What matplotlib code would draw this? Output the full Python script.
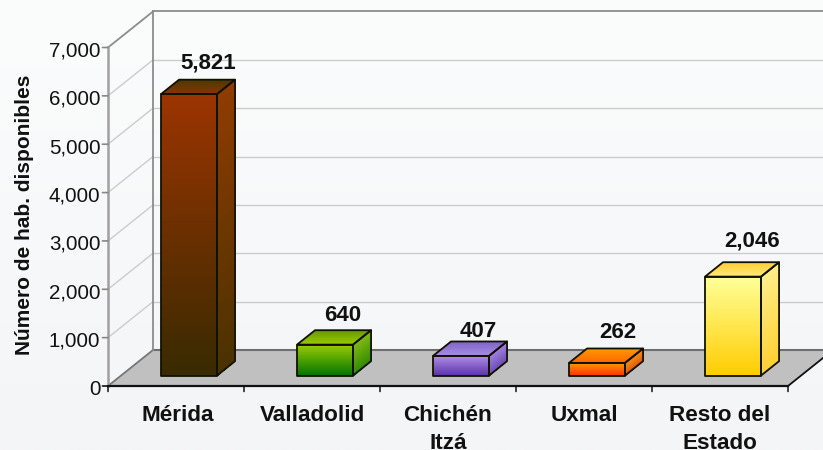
import numpy as np
import matplotlib
matplotlib.use('Agg')
import matplotlib.pyplot as plt
from matplotlib.colors import LinearSegmentedColormap
from matplotlib.patches import Polygon

plt.rcParams['font.family'] = ['Liberation Sans', 'DejaVu Sans']

# data
categories = ['Mérida', 'Valladolid', 'Chichén\nItzá', 'Uxmal', 'Resto del\nEstado']
values = [5821, 640, 407, 262, 2046]
value_labels = ['5,821', '640', '407', '262', '2,046']
y_ticks = [0, 1000, 2000, 3000, 4000, 5000, 6000, 7000]
y_title = 'Número de hab. disponibles'

# colours per bar: front (top, bottom), side (top, bottom), top face (back, front)
front_colors = [('#9c3400', '#382a00'), ('#99cc00', '#007400'), ('#b08ee8', '#5a32a8'),
                ('#ff9900', '#ff3300'), ('#ffff99', '#ffcc00')]
side_colors = [('#8f3c00', '#4a3200'), ('#80b814', '#2f8a00'), ('#a080e0', '#6a48b0'),
               ('#f09010', '#e05010'), ('#ffee88', '#ffd030')]
roof_colors = [('#4a3a00', '#8a3400'), ('#669900', '#99cc00'), ('#7f62c8', '#a98ee6'),
               ('#ff9900', '#ff6600'), ('#ffcc33', '#ffea77')]

# picture layout, in pixels of the 823x450 image
W, H = 823, 450
x_left, cat_w = 108, 136
y_zero, px_per_unit = 386, 338.5 / 7000
depth_x = 45 / cat_w
depth_y = 36 / px_per_unit
bar_w = 56 / cat_w
d_front, d_back = 0.29, 0.69
# small shifts of the value labels, in points
label_dx = [0.7, 0, -0.7, 2, 1]
label_dy = [0, -1.4, -5, -0.7, 3]
# same for the category labels
cat_dx = [1.5, 0, 0, 0, 0]


def pt(x, y, d=0.0):
    return x + d * depth_x, y + d * depth_y


def shaded(corners, c_top, c_bottom):
    # corners: top-left, top-right, bottom-right, bottom-left
    cmap = LinearSegmentedColormap.from_list('g', [c_bottom, c_top])
    tl, tr, br, bl = [np.array(c) for c in corners]
    t = np.linspace(0, 1, 41)[:, None]
    left = bl + (tl - bl) * t
    right = br + (tr - br) * t
    X = np.column_stack([left[:, 0], right[:, 0]])
    Y = np.column_stack([left[:, 1], right[:, 1]])
    C = (t[:-1] + t[1:]) / 2
    ax.pcolormesh(X, Y, C, cmap=cmap, vmin=0, vmax=1, shading='flat',
                  linewidth=0, antialiased=False, zorder=3)
    ax.add_patch(Polygon(corners, closed=True, fill=False, edgecolor='#111100',
                         linewidth=1.3, joinstyle='round', zorder=4))


fig = plt.figure(figsize=(W / 100, H / 100), dpi=100)
ax = fig.add_axes([0, 0, 1, 1])
x_lo = -0.5 - x_left / cat_w
x_hi = x_lo + W / cat_w
y_hi = y_zero / px_per_unit
y_lo = y_hi - H / px_per_unit
ax.axis('off')

# page background
bg = np.linspace(0, 1, 200)[:, None]
ax.imshow(bg, extent=(x_lo, x_hi, y_lo, y_hi), aspect='auto', zorder=0, vmin=0, vmax=1,
          cmap=LinearSegmentedColormap.from_list('bg', ['#fbfcfc', '#f4f5f7']), origin='upper')
ax.set_xlim(x_lo, x_hi)
ax.set_ylim(y_lo, y_hi)

x0 = -0.5
x1 = len(categories) - 0.5
top = y_ticks[-1]
far_right = x_hi + 1

# grid on the left wall and the back wall
for v in y_ticks[1:-1]:
    ax.plot(*zip(pt(x0, v), pt(x0, v, 1)), color='#cccccc', lw=1.0, zorder=1)
    ax.plot(*zip(pt(x0, v, 1), pt(far_right, v, 1)), color='#cccccc', lw=1.0, zorder=1)

# floor
ax.add_patch(Polygon([pt(x0, 0), pt(x1, 0), pt(x1, 0, 1), pt(x0, 0, 1)], closed=True,
                     facecolor='#c0c0c0', edgecolor='none', zorder=2))
ax.plot(*zip(pt(x0, 0, 1), pt(far_right, 0, 1)), color='#6e6e6e', lw=1.5, zorder=2)
ax.plot(*zip(pt(x0, 0), pt(x0, 0, 1)), color='#777777', lw=1.3, zorder=2)
ax.plot(*zip(pt(x1, 0), pt(x1, 0, 1)), color='#111111', lw=1.3, zorder=2)

# wall frame
ax.plot(*zip(pt(x0, 0, 1), pt(x0, top, 1)), color='#8c8c8c', lw=1.3, zorder=2)
ax.plot(*zip(pt(x0, top), pt(x0, top, 1)), color='#8c8c8c', lw=1.3, zorder=2)
ax.plot(*zip(pt(x0, top, 1), pt(far_right, top, 1)), color='#8c8c8c', lw=1.3, zorder=2)
ax.plot(*zip(pt(x0, 0), pt(x0, top)), color='#a0a0a0', lw=1.8, zorder=2)
ax.plot([x0, x1], [0, 0], color='#111111', lw=1.6, zorder=5)

# ticks and tick labels
for v in y_ticks:
    ax.annotate('', xy=(x0, v), xytext=(-4, 0), textcoords='offset points',
                arrowprops=dict(arrowstyle='-', color='#888888' if v else '#111111', lw=1.2,
                                shrinkA=0, shrinkB=0))
    ax.annotate(f'{v:,}', xy=(x0, v), xytext=(-5.5, -2.5), textcoords='offset points',
                ha='right', va='center', fontsize=14.8, color='#111111')
for k in range(len(categories) + 1):
    ax.annotate('', xy=(x0 + k, 0), xytext=(0, -4), textcoords='offset points',
                arrowprops=dict(arrowstyle='-', color='#111111', lw=1.1, shrinkA=0, shrinkB=0))

# bars
for i, v in enumerate(values):
    l, r = i - bar_w / 2, i + bar_w / 2
    shaded([pt(l, v, d_front), pt(r, v, d_front), pt(r, 0, d_front), pt(l, 0, d_front)], *front_colors[i])
    shaded([pt(r, v, d_front), pt(r, v, d_back), pt(r, 0, d_back), pt(r, 0, d_front)], *side_colors[i])
    shaded([pt(l, v, d_back), pt(r, v, d_back), pt(r, v, d_front), pt(l, v, d_front)], *roof_colors[i])
    ax.annotate(value_labels[i], xy=pt(i, v, d_back), xytext=(label_dx[i], 12 + label_dy[i]),
                textcoords='offset points', ha='center', va='center', fontsize=16,
                fontweight='bold', color='#111111', zorder=6)

# category labels, the second line runs off the picture as in the original
for i, c in enumerate(categories):
    ax.annotate(c, xy=(i, 0), xytext=(cat_dx[i], -14), textcoords='offset points', ha='center', va='top',
                fontsize=16.2, fontweight='bold', color='#111111', linespacing=1.38,
                annotation_clip=False)

ax.text(25 / W, 1 - 215 / H, y_title, transform=ax.transAxes, rotation=90, ha='center', va='center',
        fontsize=15, fontweight='bold', color='#111111')

fig.savefig('out.png', dpi=100)
